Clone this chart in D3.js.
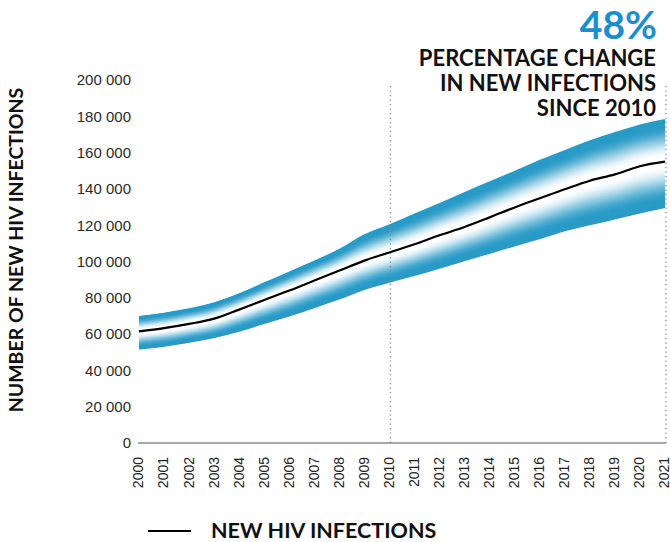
<!DOCTYPE html>
<html><head><meta charset="utf-8">
<script src="https://cdn.jsdelivr.net/npm/d3@7"></script>
<style>
body{margin:0;background:#fff;}
svg{display:block;}
</style></head>
<body>
<svg id="chart" width="670" height="542"></svg>
<script>
const years = [2000,2001,2002,2003,2004,2005,2006,2007,2008,2009,2010,2011,2012,2013,2014,2015,2016,2017,2018,2019,2020,2021];
const estimate = [61500,63300,65600,68500,73500,78800,84000,89500,95000,100500,105000,109500,114500,119000,124300,129800,134800,139800,144500,148000,152500,155000];
const upper = [70000,71800,74200,77500,82500,88500,94500,100500,107000,115000,120500,126500,132300,138300,144200,150000,156000,161500,166800,171300,175500,178500];
const lower = [51500,53000,55200,57800,61300,65500,69700,74300,79000,84300,88300,92000,96000,100200,104200,108300,112200,116600,120000,123200,126500,129500];
const yTicks = [0,20000,40000,60000,80000,100000,120000,140000,160000,180000,200000];
const markerYears = [2010,2021];

const svg = d3.select("#chart");
const x = d3.scaleLinear().domain([2000,2021]).range([139,665]);
const y = d3.scaleLinear().domain([0,200000]).range([443,80]);
const loc = d3.formatLocale({decimal:".", thousands:" ", grouping:[3], currency:["",""]});
const fmt = loc.format(",d");

const blue = "#2a9bc7";
const data = years.map((yr,i)=>({yr, e:estimate[i], u:upper[i], l:lower[i]}));

// gradient band by nested areas
const N = 48;
const ramp = t => {
  const s = Math.max(0, Math.min(1, (t-0.1)/0.75));
  return d3.interpolateRgb("#ffffff", blue)(s*s*(3-2*s));
};
const gBand = svg.append("g");
for (let k=N; k>=1; k--){
  const t = k/N;
  const area = d3.area()
    .x(d=>x(d.yr))
    .y0(d=>y(d.e + (d.l-d.e)*t))
    .y1(d=>y(d.e + (d.u-d.e)*t))
    .curve(d3.curveMonotoneX);
  gBand.append("path").datum(data).attr("d", area).attr("fill", ramp(t));
}

// dotted vertical markers
svg.append("g").selectAll("line").data(markerYears).join("line")
  .attr("x1", d=>x(d)+1).attr("x2", d=>x(d)+1)
  .attr("y1", 86).attr("y2", 443)
  .attr("stroke", "#8a8a8a").attr("stroke-width", 1.3)
  .attr("stroke-dasharray", "1.3,3.2");

// main line
svg.append("path").datum(data)
  .attr("d", d3.line().x(d=>x(d.yr)).y(d=>y(d.e)).curve(d3.curveMonotoneX))
  .attr("fill","none").attr("stroke","#000").attr("stroke-width",2.2);

// y axis
const yAxis = svg.append("g").attr("transform","translate(131,0)")
  .call(d3.axisLeft(y).tickValues(yTicks).tickSize(0).tickPadding(0).tickFormat(d=>fmt(d)));
yAxis.select(".domain").remove();
yAxis.selectAll("text").attr("font-family","Liberation Sans, Arial, sans-serif")
  .attr("font-size",15).attr("fill","#2a2a2a");

// x axis
const xAxis = svg.append("g").attr("transform","translate(0,443)")
  .call(d3.axisBottom(x).tickValues(years).tickSize(0).tickFormat(d=>String(d)));
xAxis.select(".domain").attr("stroke","#8a8a8a").attr("stroke-width",1.3)
  .attr("d","M138,0H666");
xAxis.selectAll("text")
  .attr("font-family","Liberation Sans, Arial, sans-serif")
  .attr("font-size",14).attr("fill","#222")
  .attr("transform","rotate(-90)")
  .attr("text-anchor","end")
  .attr("x",-14).attr("y",-1).attr("dy","0.35em");

// y axis title
svg.append("text")
  .attr("transform","translate(23,250) rotate(-90)")
  .attr("text-anchor","middle")
  .attr("font-family","Lato, sans-serif").attr("font-weight",700)
  .attr("font-size",19.5).attr("fill","#111")
  .text("NUMBER OF NEW HIV INFECTIONS");

// headline
svg.append("text").attr("x",657).attr("y",39).attr("text-anchor","end")
  .attr("font-family","Lato, sans-serif").attr("font-weight",700)
  .attr("font-size",39).attr("fill","#1a8fd0").text("48%");
const lines = ["PERCENTAGE CHANGE","IN NEW INFECTIONS","SINCE 2010"];
svg.append("g").selectAll("text").data(lines).join("text")
  .attr("x",656).attr("y",(d,i)=>66+i*25).attr("text-anchor","end")
  .attr("font-family","Lato, sans-serif").attr("font-weight",700)
  .attr("font-size",22).attr("fill","#111").text(d=>d);

// legend
svg.append("line").attr("x1",148).attr("x2",191).attr("y1",531).attr("y2",531)
  .attr("stroke","#000").attr("stroke-width",2.2);
svg.append("text").attr("x",211).attr("y",538)
  .attr("font-family","Lato, sans-serif").attr("font-weight",700)
  .attr("font-size",21.5).attr("fill","#111").text("NEW HIV INFECTIONS");
</script>
</body></html>
